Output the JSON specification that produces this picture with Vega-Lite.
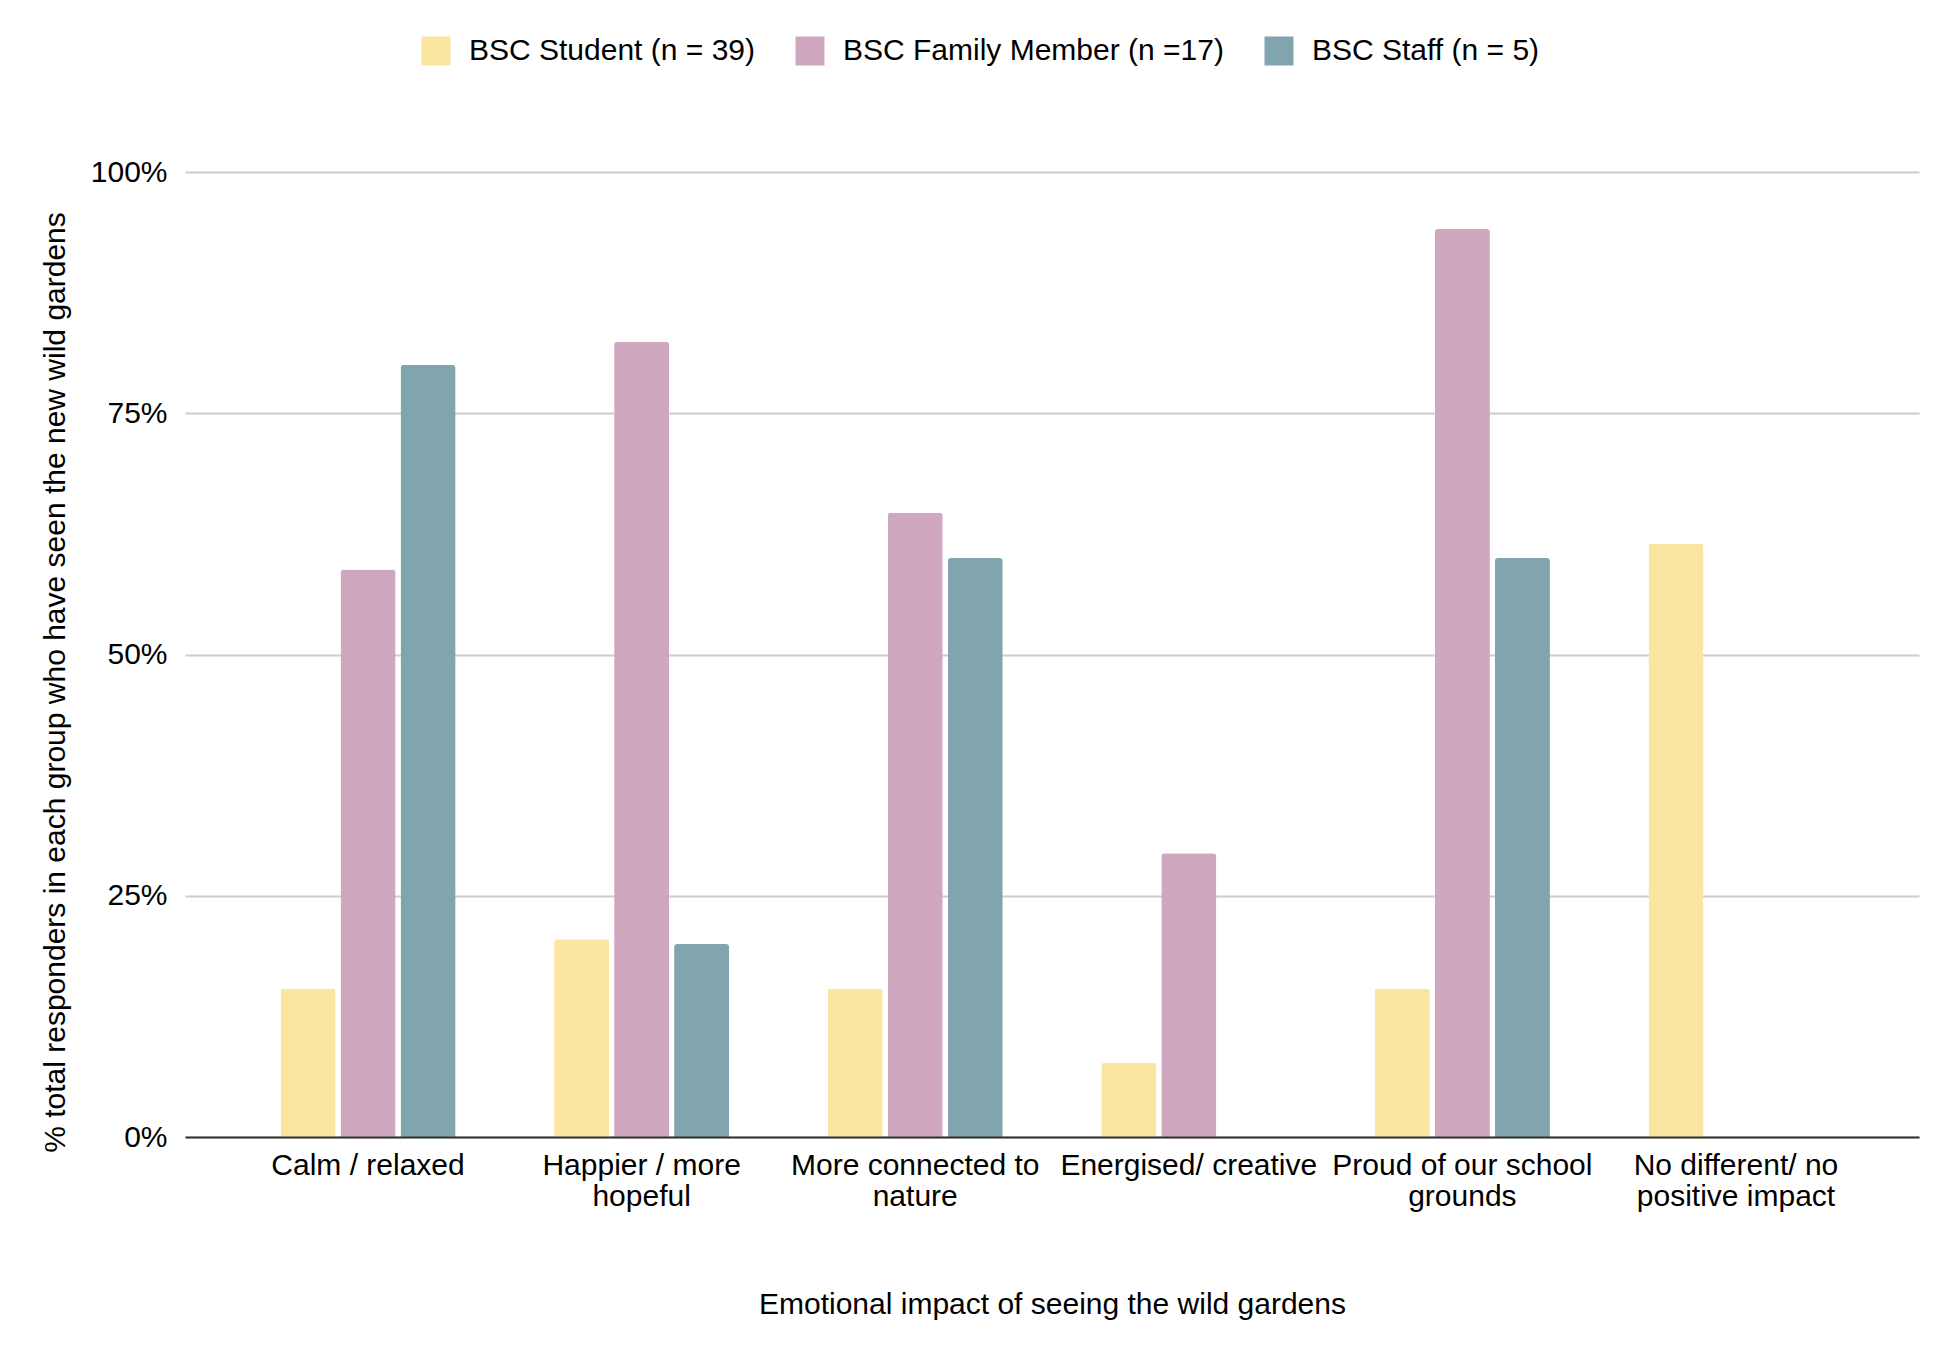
{
  "$schema": "https://vega.github.io/schema/vega-lite/v6.json",
  "description": "Emotional impact of seeing the wild gardens, by group",
  "autosize": {"type": "none"},
  "width": 1734,
  "height": 965,
  "padding": {"left": 185, "top": 172, "right": 31, "bottom": 233},
  "background": "white",
  "config": {
    "font": "Liberation Sans",
    "view": {"stroke": null}
  },
  "data": {
    "values": [
      {"category": "Calm / relaxed", "group": "BSC Student (n = 39)", "value": 0.154},
      {"category": "Calm / relaxed", "group": "BSC Family Member (n =17)", "value": 0.588},
      {"category": "Calm / relaxed", "group": "BSC Staff (n = 5)", "value": 0.8},
      {"category": "Happier / more hopeful", "group": "BSC Student (n = 39)", "value": 0.205},
      {"category": "Happier / more hopeful", "group": "BSC Family Member (n =17)", "value": 0.824},
      {"category": "Happier / more hopeful", "group": "BSC Staff (n = 5)", "value": 0.2},
      {"category": "More connected to nature", "group": "BSC Student (n = 39)", "value": 0.154},
      {"category": "More connected to nature", "group": "BSC Family Member (n =17)", "value": 0.647},
      {"category": "More connected to nature", "group": "BSC Staff (n = 5)", "value": 0.6},
      {"category": "Energised/ creative", "group": "BSC Student (n = 39)", "value": 0.077},
      {"category": "Energised/ creative", "group": "BSC Family Member (n =17)", "value": 0.294},
      {"category": "Energised/ creative", "group": "BSC Staff (n = 5)", "value": 0},
      {"category": "Proud of our school grounds", "group": "BSC Student (n = 39)", "value": 0.154},
      {"category": "Proud of our school grounds", "group": "BSC Family Member (n =17)", "value": 0.941},
      {"category": "Proud of our school grounds", "group": "BSC Staff (n = 5)", "value": 0.6},
      {"category": "No different/ no positive impact", "group": "BSC Student (n = 39)", "value": 0.615},
      {"category": "No different/ no positive impact", "group": "BSC Family Member (n =17)", "value": 0},
      {"category": "No different/ no positive impact", "group": "BSC Staff (n = 5)", "value": 0}
    ]
  },
  "mark": {"type": "bar", "cornerRadiusTopLeft": 3, "cornerRadiusTopRight": 3},
  "encoding": {
    "x": {
      "field": "category",
      "type": "nominal",
      "sort": ["Calm / relaxed", "Happier / more hopeful", "More connected to nature", "Energised/ creative", "Proud of our school grounds", "No different/ no positive impact"],
      "scale": {"paddingInner": 0.36, "paddingOuter": 0.349},
      "axis": {
        "title": "Emotional impact of seeing the wild gardens",
        "titleFontSize": 30,
        "titleFontWeight": "normal",
        "titleColor": "#000",
        "titleX": 867,
        "titleY": 167,
        "titleBaseline": "middle",
        "labelAngle": 0,
        "labelFontSize": 30,
        "labelColor": "#000",
        "labelPadding": 13,
        "labelLineHeight": 31,
        "labelLimit": 400,
        "labelExpr": "datum.value == 'Happier / more hopeful' ? ['Happier / more', 'hopeful'] : datum.value == 'More connected to nature' ? ['More connected to', 'nature'] : datum.value == 'Proud of our school grounds' ? ['Proud of our school', 'grounds'] : datum.value == 'No different/ no positive impact' ? ['No different/ no', 'positive impact'] : datum.value",
        "ticks": false,
        "domainColor": "#333",
        "domainWidth": 2,
        "zindex": 1
      }
    },
    "xOffset": {
      "field": "group",
      "type": "nominal",
      "sort": ["BSC Student (n = 39)", "BSC Family Member (n =17)", "BSC Staff (n = 5)"],
      "scale": {"paddingInner": 0.083, "paddingOuter": 0}
    },
    "y": {
      "field": "value",
      "type": "quantitative",
      "scale": {"domain": [0, 1]},
      "axis": {
        "title": "% total responders in each group who have seen the new wild gardens",
        "titleFontSize": 30,
        "titleFontWeight": "normal",
        "titleColor": "#000",
        "titleAngle": -90,
        "titleX": -130,
        "titleY": 510,
        "titleAlign": "center",
        "titleBaseline": "middle",
        "values": [0, 0.25, 0.5, 0.75, 1],
        "format": ".0%",
        "labelFontSize": 30,
        "labelColor": "#000",
        "labelPadding": 18,
        "ticks": false,
        "domain": false,
        "gridColor": "#cccccc",
        "gridWidth": 2
      }
    },
    "color": {
      "field": "group",
      "type": "nominal",
      "sort": ["BSC Student (n = 39)", "BSC Family Member (n =17)", "BSC Staff (n = 5)"],
      "scale": {
        "domain": ["BSC Student (n = 39)", "BSC Family Member (n =17)", "BSC Staff (n = 5)"],
        "range": ["#fae6a0", "#cfa8bf", "#81a5ae"]
      },
      "legend": {
        "title": null,
        "orient": "none",
        "direction": "horizontal",
        "legendX": 236,
        "legendY": -136,
        "padding": 0,
        "symbolType": "square",
        "symbolSize": 841,
        "symbolStrokeWidth": 0,
        "labelFontSize": 30,
        "labelColor": "#000",
        "labelOffset": 18,
        "columnPadding": 40,
        "labelLimit": 500
      }
    }
  }
}
